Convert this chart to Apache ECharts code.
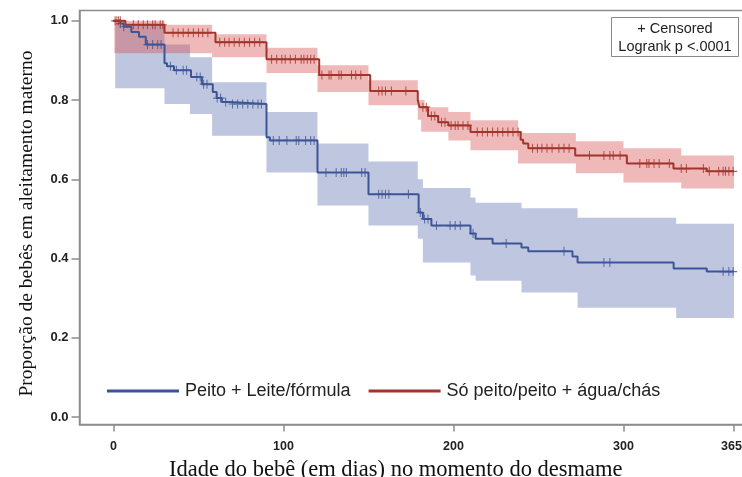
<!DOCTYPE html>
<html>
<head>
<meta charset="utf-8">
<script src="https://cdn.jsdelivr.net/npm/echarts@6/dist/echarts.min.js"></script>
<style>
html,body{margin:0;padding:0;background:#fff;}
#chart{width:742px;height:477px;}
</style>
</head>
<body>
<div id="chart"></div>
<script>
// ---- data ----
var seriesNames = ['Peito + Leite/fórmula', 'Só peito/peito + água/chás'];
var xTicks = [0, 100, 200, 300, 365];
var yTicks = [0, 0.2, 0.4, 0.6, 0.8, 1.0];

// Kaplan-Meier step curve: Peito + Leite/fórmula
var blueTimes = [0, 4, 6, 10.5, 15, 19, 30, 31.5, 35.6, 45.6, 52, 58.4, 60.7, 63.7, 68, 90, 92, 120, 150, 179.5, 182, 187, 210, 213, 223, 240, 244, 270, 273, 329.5, 349, 365];
var blueSurv  = [1.0, 0.993, 0.985, 0.972, 0.96, 0.94, 0.893, 0.885, 0.875, 0.858, 0.84, 0.82, 0.805, 0.795, 0.79, 0.706, 0.698, 0.617, 0.562, 0.516, 0.50, 0.483, 0.463, 0.45, 0.438, 0.428, 0.418, 0.405, 0.39, 0.375, 0.367, 0.367];
// confidence band
var blueBandTimes = [1, 30, 45, 58, 90, 120, 150, 179, 182, 210, 213, 240, 273, 331, 365];
var blueUpper     = [0.99, 0.94, 0.908, 0.845, 0.77, 0.69, 0.645, 0.60, 0.578, 0.554, 0.541, 0.527, 0.503, 0.488, 0.488];
var blueLower     = [0.83, 0.79, 0.765, 0.71, 0.617, 0.534, 0.483, 0.45, 0.39, 0.357, 0.344, 0.314, 0.276, 0.25, 0.25];
// censored times
var blueCensor = [4, 6, 20, 23, 26, 28, 33.5, 37, 41, 43, 49, 51, 53, 55, 61, 63, 66, 70, 73, 76, 79, 82, 85, 87, 94, 97.5, 102, 107.5, 109, 113, 116, 118, 125, 131, 134, 135.5, 137, 146, 148, 156, 158, 160, 162, 173.5, 180.5, 183, 185, 190, 198, 201, 204, 211.5, 231, 265, 288.5, 292, 358.6, 362, 364.5];

// Kaplan-Meier step curve: Só peito/peito + água/chás
var redTimes = [0, 7, 30, 60, 90, 121, 151, 179, 180, 185, 191, 197, 210, 239.5, 241, 244, 271.6, 302, 329.4, 349, 365];
var redSurv  = [1.0, 0.99, 0.97, 0.946, 0.903, 0.863, 0.823, 0.80, 0.782, 0.76, 0.744, 0.736, 0.719, 0.70, 0.69, 0.678, 0.66, 0.64, 0.627, 0.62, 0.62];
var redBandTimes = [0.5, 30, 58, 90, 120, 150, 179, 181, 183, 197, 210, 238, 272, 300, 334, 365];
var redUpper     = [1.0, 0.99, 0.966, 0.932, 0.888, 0.85, 0.80, 0.80, 0.782, 0.77, 0.749, 0.717, 0.696, 0.678, 0.66, 0.66];
var redLower     = [0.918, 0.918, 0.908, 0.868, 0.82, 0.787, 0.75, 0.72, 0.72, 0.698, 0.673, 0.64, 0.615, 0.592, 0.577, 0.577];
var redCensor = [1, 2, 3, 4, 11.7, 14.6, 17.5, 20, 23, 24.5, 27.5, 29, 35, 38, 41, 44, 47, 50, 52.5, 55.5, 62.5, 65.4, 68, 71, 74, 77, 80, 83, 86, 93, 96, 99, 101, 104, 107, 110.4, 112, 114, 116, 118, 122.6, 126.8, 128, 132.6, 134, 140, 142.5, 145.5, 156, 158, 160, 163.5, 172, 182, 184, 187, 189, 193, 195, 198.6, 201, 202.7, 205.6, 208.5, 214, 217, 220, 223, 226, 229, 232, 235, 238, 246.5, 249.4, 252, 255, 258, 262, 265, 268, 280, 288.5, 292, 294, 298, 309.6, 313.7, 315, 318, 321, 327, 334, 337, 347, 350.5, 356, 358.6, 360, 362, 364.5];

var statLines = ['+ Censored', 'Logrank p <.0001'];
var xTitle = 'Idade do bebê (em dias) no momento do desmame';
var yTitle = 'Proporção de bebês em aleitamento materno';

// ---- helpers ----
function zip(a, b) { return a.map(function (v, i) { return [v, b[i]]; }); }
function survAt(times, surv, t) {
  var s = surv[0];
  for (var i = 0; i < times.length; i++) { if (times[i] <= t) s = surv[i]; }
  return s;
}
function censorData(days, times, surv) {
  return days.map(function (d) { return [d, survAt(times, surv, d)]; });
}
function bandRows(t, lo, hi) { return t.map(function (v, i) { return [v, lo[i], hi[i]]; }); }
function bandRender(t, lo, hi, fill) {
  return function (params, api) {
    if (params.dataIndex !== 0) return null;
    var pts = [];
    for (var i = 0; i < t.length - 1; i++) {
      pts.push(api.coord([t[i], hi[i]]));
      pts.push(api.coord([t[i + 1], hi[i]]));
    }
    for (var j = t.length - 2; j >= 0; j--) {
      pts.push(api.coord([t[j + 1], lo[j]]));
      pts.push(api.coord([t[j], lo[j]]));
    }
    return { type: 'polygon', shape: { points: pts }, style: { fill: fill, stroke: null } };
  };
}

var BLUE = '#3d5597';
var RED = '#a2352b';
var BLUE_BAND = 'rgba(68,92,165,0.34)';
var RED_BAND = 'rgba(214,80,80,0.40)';
var AXIS = '#8c8c8c';
var plusSymbol = 'path://M5,0L5,10M0,5L10,5';
var tickFont = { fontFamily: 'Liberation Sans', fontSize: 12.5, fontWeight: 'bold', color: '#222' };

var chart = echarts.init(document.getElementById('chart'), null, { renderer: 'canvas' });
chart.setOption({
  animation: false,
  backgroundColor: '#fff',
  grid: { left: 79.5, top: 10.5, right: -2, bottom: 52.5, show: true, borderColor: AXIS, borderWidth: 1.5,
    containLabel: false, outerBoundsMode: 'none' },
  xAxis: {
    type: 'value', min: -20, max: 370.9,
    name: xTitle, nameLocation: 'middle', nameGap: 32,
    nameTextStyle: { fontFamily: 'Liberation Serif', fontSize: 22.5, color: '#111', padding: [0, 32, 0, 0] },
    axisLine: { show: true, onZero: false, lineStyle: { color: AXIS, width: 1.5 } },
    axisTick: { show: true, length: 7, customValues: xTicks, lineStyle: { color: AXIS, width: 1.5 } },
    axisLabel: {
      customValues: xTicks, margin: 16, fontFamily: tickFont.fontFamily, fontSize: tickFont.fontSize,
      fontWeight: tickFont.fontWeight, color: tickFont.color,
      formatter: function (v) { return v === xTicks[xTicks.length - 1] ? '{e|' + v + '}' : String(v); },
      rich: { e: { fontFamily: tickFont.fontFamily, fontSize: tickFont.fontSize, fontWeight: tickFont.fontWeight,
        color: tickFont.color, padding: [0, 5, 0, 0] } }
    },
    splitLine: { show: false }
  },
  yAxis: {
    type: 'value', min: -0.019, max: 1.026,
    name: yTitle, nameLocation: 'middle', nameGap: 43,
    nameTextStyle: { fontFamily: 'Liberation Serif', fontSize: 19.5, color: '#111', padding: [0, 12, 0, 0] },
    axisLine: { show: true, onZero: false, lineStyle: { color: AXIS, width: 1.5 } },
    axisTick: { show: true, length: 8, customValues: yTicks, lineStyle: { color: AXIS, width: 1.5 } },
    axisLabel: { customValues: yTicks, margin: 11, fontFamily: 'Liberation Sans', fontSize: 13, fontWeight: 'bold', color: '#222',
      formatter: function (v) { return v.toFixed(1); } },
    splitLine: { show: false }
  },
  legend: {
    data: seriesNames, left: 102, top: 377, icon: 'rect', itemWidth: 72, itemHeight: 3, itemGap: 18,
    textStyle: { fontFamily: 'Liberation Sans', fontSize: 18, color: '#222', padding: [0, 0, 0, 1] },
    selectedMode: false
  },
  graphic: [{
    type: 'group', left: 611, top: 17,
    children: [
      { type: 'rect', shape: { x: 0, y: 0, width: 127, height: 39 }, style: { fill: '#fff', stroke: '#888', lineWidth: 1 } },
      { type: 'text', style: { x: 63.5, y: 11, text: statLines[0], align: 'center', verticalAlign: 'middle', font: '14.5px "Liberation Sans"', fill: '#222' } },
      { type: 'text', style: { x: 63.5, y: 29, text: statLines[1], align: 'center', verticalAlign: 'middle', font: '14.5px "Liberation Sans"', fill: '#222' } }
    ]
  }],
  series: [
    { type: 'custom', name: 'blueBand', silent: true, z: 1, data: bandRows(blueBandTimes, blueLower, blueUpper),
      encode: { x: 0, y: [1, 2] }, renderItem: bandRender(blueBandTimes, blueLower, blueUpper, BLUE_BAND) },
    { type: 'custom', name: 'redBand', silent: true, z: 2, data: bandRows(redBandTimes, redLower, redUpper),
      encode: { x: 0, y: [1, 2] }, renderItem: bandRender(redBandTimes, redLower, redUpper, RED_BAND) },
    { type: 'line', name: seriesNames[0], step: 'end', symbol: 'none', z: 3, color: BLUE,
      lineStyle: { color: BLUE, width: 2 }, data: zip(blueTimes, blueSurv) },
    { type: 'line', name: seriesNames[1], step: 'end', symbol: 'none', z: 3, color: RED,
      lineStyle: { color: RED, width: 2 }, data: zip(redTimes, redSurv) },
    { type: 'scatter', name: 'blueCensor', silent: true, z: 4, symbol: plusSymbol, symbolSize: [8, 9],
      itemStyle: { color: 'transparent', borderColor: BLUE, borderWidth: 1.1 }, data: censorData(blueCensor, blueTimes, blueSurv) },
    { type: 'scatter', name: 'redCensor', silent: true, z: 4, symbol: plusSymbol, symbolSize: [8, 9],
      itemStyle: { color: 'transparent', borderColor: RED, borderWidth: 1.1 }, data: censorData(redCensor, redTimes, redSurv) }
  ]
});
</script>
</body>
</html>
